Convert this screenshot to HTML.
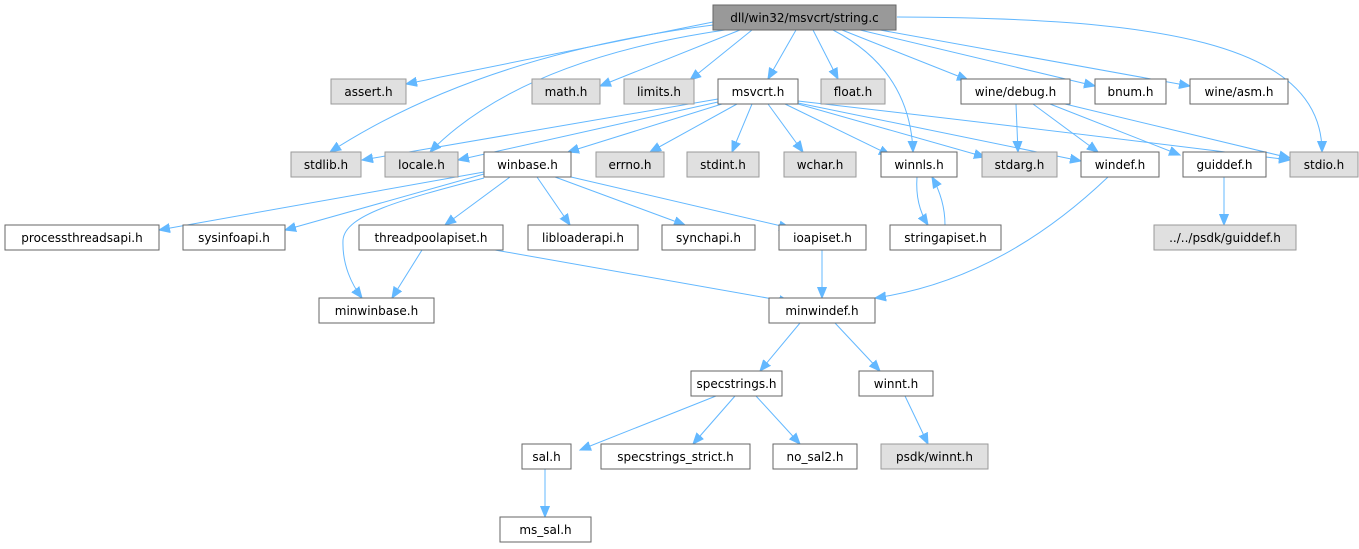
<!DOCTYPE html>
<html><head><meta charset="utf-8"><style>
html,body{margin:0;padding:0;background:#fff;}
svg{display:block;}
text{font-family:"DejaVu Sans","Liberation Sans",sans-serif;font-size:12px;fill:#000;}
.w{fill:#fff;stroke:#666;stroke-width:1;}
.g{fill:#e0e0e0;stroke:#999;stroke-width:1;}
.r{fill:#999;stroke:#666;stroke-width:1;}
.e path{fill:none;stroke:#63b8ff;stroke-width:1;}
</style></head><body>
<svg width="1359" height="549" viewBox="0 0 1359 549" xmlns="http://www.w3.org/2000/svg">
<defs><marker id="a" markerUnits="userSpaceOnUse" markerWidth="12" markerHeight="10" refX="11" refY="5" orient="auto"><path d="M0,0.5 L11,5 L0,9.5 z" fill="#63b8ff" stroke="#63b8ff"/></marker></defs>
<g class="e" marker-end="url(#a)">
<path d="M713,22 L406,84"/>
<path d="M713,25 Q480,55 330,152"/>
<path d="M725,30 Q520,60 430,152"/>
<path d="M740,30 L600,86"/>
<path d="M752,30 L690,80"/>
<path d="M796,30 L768,79"/>
<path d="M813,30 L838,79"/>
<path d="M833,30 Q910,70 913,152"/>
<path d="M842,30 L968,80"/>
<path d="M860,30 L1095,86"/>
<path d="M880,30 L1190,86"/>
<path d="M897,17 C1150,18 1322,40 1322,152"/>
<path d="M718,99 L362,160"/>
<path d="M718,102 L458,160"/>
<path d="M722,104 L568,152"/>
<path d="M737,104 L650,152"/>
<path d="M752,104 L732,152"/>
<path d="M768,104 L803,152"/>
<path d="M785,104 L890,155"/>
<path d="M798,104 L985,157"/>
<path d="M798,103 L1081,161"/>
<path d="M798,101 Q1050,130 1290,160"/>
<path d="M1016,104 L1018,152"/>
<path d="M1033,104 L1098,152"/>
<path d="M1050,104 L1180,155"/>
<path d="M1065,104 L1290,158"/>
<path d="M484,172 L159,230"/>
<path d="M484,174 L285,230"/>
<path d="M484,178 C400,200 345,215 343,240 C342,265 352,285 362,298"/>
<path d="M510,177 L445,225"/>
<path d="M537,177 L570,225"/>
<path d="M555,177 L685,225"/>
<path d="M571,177 L790,228"/>
<path d="M422,250 L392,298"/>
<path d="M495,250 L790,302"/>
<path d="M822,250 L822,298"/>
<path d="M1108,177 Q1000,280 875,298"/>
<path d="M917,177 Q915,205 928,225"/>
<path d="M945,225 Q945,200 932,177"/>
<path d="M1224,177 L1224,225"/>
<path d="M800,323 L760,371"/>
<path d="M835,323 L880,371"/>
<path d="M716,396 L580,450"/>
<path d="M735,396 L693,444"/>
<path d="M756,396 L800,444"/>
<path d="M905,396 L928,444"/>
<path d="M545,469 L545,517"/>
</g>
<g text-anchor="middle">
<rect class="r" x="713" y="5" width="183" height="25"/><text x="804.5" y="22">dll/win32/msvcrt/string.c</text>
<rect class="g" x="331" y="79" width="75" height="25"/><text x="368.5" y="96">assert.h</text>
<rect class="g" x="532" y="79" width="68" height="25"/><text x="566" y="96">math.h</text>
<rect class="g" x="624" y="79" width="70" height="25"/><text x="659" y="96">limits.h</text>
<rect class="w" x="718" y="79" width="80" height="25"/><text x="758" y="96">msvcrt.h</text>
<rect class="g" x="821" y="79" width="64" height="25"/><text x="853" y="96">float.h</text>
<rect class="w" x="961" y="79" width="109" height="25"/><text x="1015.5" y="96">wine/debug.h</text>
<rect class="w" x="1095" y="79" width="71" height="25"/><text x="1130.5" y="96">bnum.h</text>
<rect class="w" x="1190" y="79" width="98" height="25"/><text x="1239" y="96">wine/asm.h</text>
<rect class="g" x="291" y="152" width="70" height="25"/><text x="326" y="169">stdlib.h</text>
<rect class="g" x="385" y="152" width="73" height="25"/><text x="421.5" y="169">locale.h</text>
<rect class="w" x="484" y="152" width="87" height="25"/><text x="527.5" y="169">winbase.h</text>
<rect class="g" x="596" y="152" width="68" height="25"/><text x="630" y="169">errno.h</text>
<rect class="g" x="687" y="152" width="72" height="25"/><text x="723" y="169">stdint.h</text>
<rect class="g" x="784" y="152" width="72" height="25"/><text x="820" y="169">wchar.h</text>
<rect class="w" x="881" y="152" width="76" height="25"/><text x="919" y="169">winnls.h</text>
<rect class="g" x="982" y="152" width="75" height="25"/><text x="1019.5" y="169">stdarg.h</text>
<rect class="w" x="1081" y="152" width="78" height="25"/><text x="1120" y="169">windef.h</text>
<rect class="w" x="1183" y="152" width="83" height="25"/><text x="1224.5" y="169">guiddef.h</text>
<rect class="g" x="1290" y="152" width="68" height="25"/><text x="1324" y="169">stdio.h</text>
<rect class="w" x="5" y="225" width="154" height="25"/><text x="82" y="242">processthreadsapi.h</text>
<rect class="w" x="183" y="225" width="102" height="25"/><text x="234" y="242">sysinfoapi.h</text>
<rect class="w" x="359" y="225" width="144" height="25"/><text x="431" y="242">threadpoolapiset.h</text>
<rect class="w" x="528" y="225" width="110" height="25"/><text x="583" y="242">libloaderapi.h</text>
<rect class="w" x="662" y="225" width="93" height="25"/><text x="708.5" y="242">synchapi.h</text>
<rect class="w" x="779" y="225" width="87" height="25"/><text x="822.5" y="242">ioapiset.h</text>
<rect class="w" x="890" y="225" width="111" height="25"/><text x="945.5" y="242">stringapiset.h</text>
<rect class="g" x="1154" y="225" width="142" height="25"/><text x="1225" y="242">../../psdk/guiddef.h</text>
<rect class="w" x="319" y="298" width="115" height="25"/><text x="376.5" y="315">minwinbase.h</text>
<rect class="w" x="769" y="298" width="106" height="25"/><text x="822" y="315">minwindef.h</text>
<rect class="w" x="691" y="371" width="91" height="25"/><text x="736.5" y="388">specstrings.h</text>
<rect class="w" x="859" y="371" width="74" height="25"/><text x="896" y="388">winnt.h</text>
<rect class="w" x="522" y="444" width="49" height="25"/><text x="546.5" y="461">sal.h</text>
<rect class="w" x="601" y="444" width="149" height="25"/><text x="675.5" y="461">specstrings_strict.h</text>
<rect class="w" x="773" y="444" width="84" height="25"/><text x="815" y="461">no_sal2.h</text>
<rect class="g" x="881" y="444" width="107" height="25"/><text x="934.5" y="461">psdk/winnt.h</text>
<rect class="w" x="500" y="517" width="91" height="25"/><text x="545.5" y="534">ms_sal.h</text>
</g>
</svg>
</body></html>
